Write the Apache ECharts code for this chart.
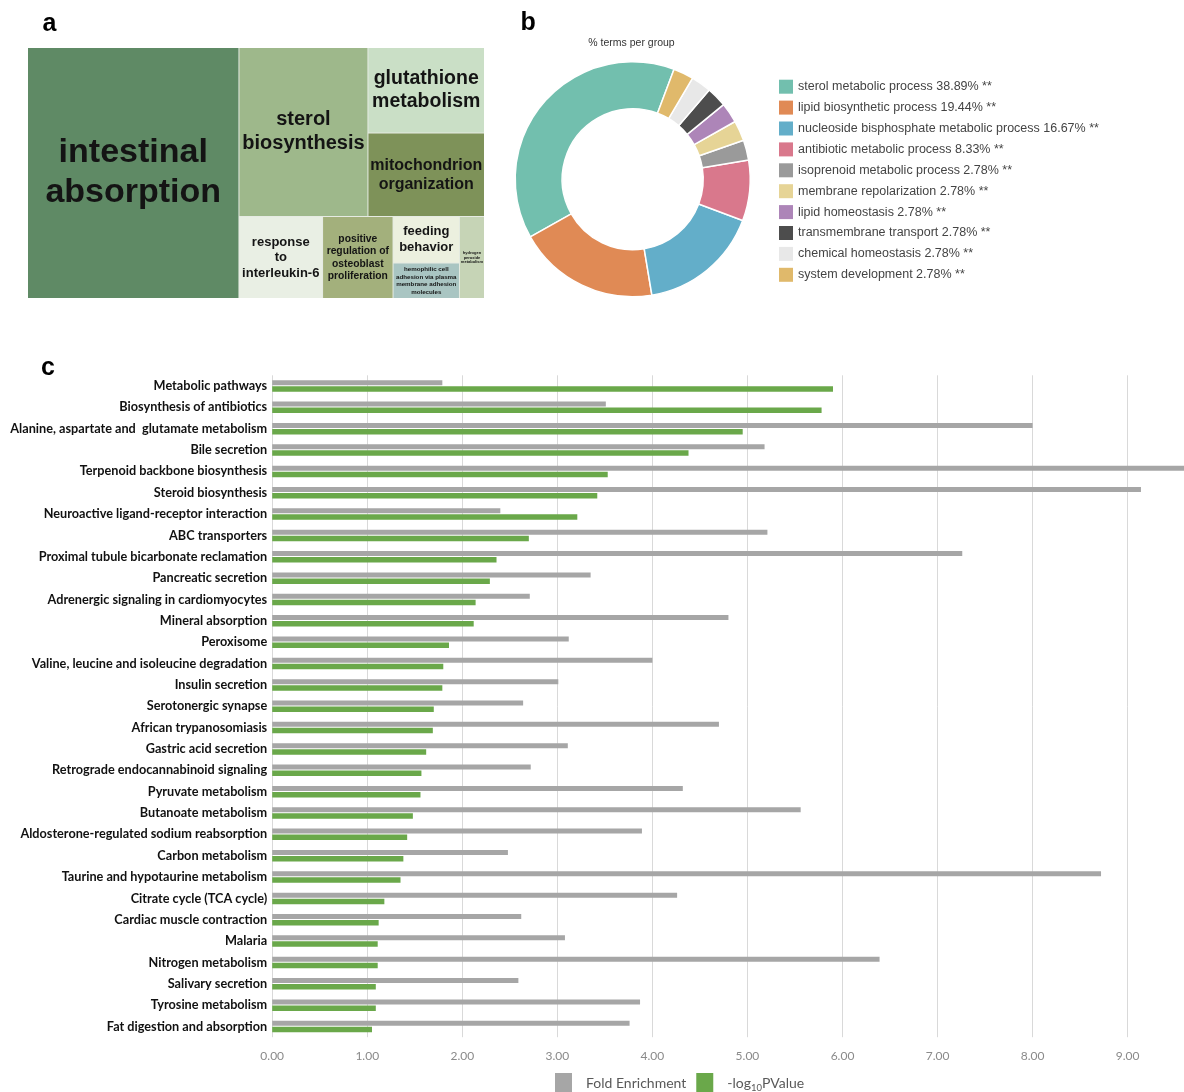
<!DOCTYPE html>
<html>
<head>
<meta charset="utf-8">
<script src="https://cdn.jsdelivr.net/npm/echarts@6/dist/echarts.min.js"></script>
<style>
  html, body { margin: 0; padding: 0; background: #ffffff; }
  #chart { width: 1184px; height: 1092px; }
</style>
</head>
<body>
<div id="chart"></div>
<script>
// ---------- Panel a: GO term treemap ----------
const treemapTerms = [
  'intestinal\nabsorption',
  'sterol\nbiosynthesis',
  'glutathione\nmetabolism',
  'mitochondrion\norganization',
  'response\nto\ninterleukin-6',
  'positive\nregulation of\nosteoblast\nproliferation',
  'feeding\nbehavior',
  'hemophilic cell\nadhesion via plasma\nmembrane adhesion\nmolecules',
  'hydrogen\nperoxide\nmetabolism'
];
// share of the treemap area per term (%)
const treemapSizes = [46.27, 19.00, 8.70, 8.47, 5.98, 5.04, 2.69, 2.06, 1.79];
// nesting of the cells (indices into treemapTerms)
const treemapLayout = [0, [[1, [2, 3]], [4, 5, [6, 7], 8]]];
const treemapColors = ['#5f8a65', '#9eb88b', '#cadfc6', '#7e9259', '#e9efe4', '#a3b07c', '#ecf0df', '#a9c5c2', '#c6d4b6'];
const treemapFontSizes = [34, 20, 19.5, 16, 13, 10.3, 13, 6.2, 4];
const treemapLineHeights = [40, 24, 23, 19, 15.5, 12.4, 16, 7.4, 4.4];

// ---------- Panel b: % terms per group ----------
const pieGroups = [
  'sterol metabolic process',
  'lipid biosynthetic process',
  'nucleoside bisphosphate metabolic process',
  'antibiotic metabolic process',
  'isoprenoid metabolic process',
  'membrane repolarization',
  'lipid homeostasis',
  'transmembrane transport',
  'chemical homeostasis',
  'system development'
];
const pieTermCounts = [14, 7, 6, 3, 1, 1, 1, 1, 1, 1];
const pieColors = ['#72bfae', '#e08a55', '#63aec9', '#d9788c', '#9a9a9a', '#e6d496', '#ad85b8', '#4d4d4d', '#e8e8e8', '#e0b96b'];

// ---------- Panel c: KEGG pathway enrichment ----------
const pathways = [
  'Metabolic pathways',
  'Biosynthesis of antibiotics',
  'Alanine, aspartate and  glutamate metabolism',
  'Bile secretion',
  'Terpenoid backbone biosynthesis',
  'Steroid biosynthesis',
  'Neuroactive ligand-receptor interaction',
  'ABC transporters',
  'Proximal tubule bicarbonate reclamation',
  'Pancreatic secretion',
  'Adrenergic signaling in cardiomyocytes',
  'Mineral absorption',
  'Peroxisome',
  'Valine, leucine and isoleucine degradation',
  'Insulin secretion',
  'Serotonergic synapse',
  'African trypanosomiasis',
  'Gastric acid secretion',
  'Retrograde endocannabinoid signaling',
  'Pyruvate metabolism',
  'Butanoate metabolism',
  'Aldosterone-regulated sodium reabsorption',
  'Carbon metabolism',
  'Taurine and hypotaurine metabolism',
  'Citrate cycle (TCA cycle)',
  'Cardiac muscle contraction',
  'Malaria',
  'Nitrogen metabolism',
  'Salivary secretion',
  'Tyrosine metabolism',
  'Fat digestion and absorption'
];
const foldEnrichment = [
  1.79, 3.51, 8.00, 5.18, 9.75, 9.14, 2.40, 5.21, 7.26, 3.35,
  2.71, 4.80, 3.12, 4.00, 3.01, 2.64, 4.70, 3.11, 2.72, 4.32,
  5.56, 3.89, 2.48, 8.72, 4.26, 2.62, 3.08, 6.39, 2.59, 3.87, 3.76
];
const negLog10P = [
  5.90, 5.78, 4.95, 4.38, 3.53, 3.42, 3.21, 2.70, 2.36, 2.29,
  2.14, 2.12, 1.86, 1.80, 1.79, 1.70, 1.69, 1.62, 1.57, 1.56,
  1.48, 1.42, 1.38, 1.35, 1.18, 1.12, 1.11, 1.11, 1.09, 1.09, 1.05
];
const barSeriesNames = ['Fold Enrichment', '-log10PValue'];
const xMin = 0, xMax = 10, xStep = 1;

// ---------- build ----------
function treeNode(spec) {
  if (Array.isArray(spec)) {
    return { name: '', children: spec.map(treeNode) };
  }
  return {
    name: treemapTerms[spec],
    value: treemapSizes[spec],
    itemStyle: { color: treemapColors[spec] },
    label: { fontSize: treemapFontSizes[spec], lineHeight: treemapLineHeights[spec] }
  };
}

const pieTotal = pieTermCounts.reduce((a, b) => a + b, 0);
const piePercent = {};
pieGroups.forEach((g, i) => { piePercent[g] = (pieTermCounts[i] / pieTotal * 100).toFixed(2); });

const LABEL_FONT = 'Lato';
const chart = echarts.init(document.getElementById('chart'), null, { renderer: 'canvas' });

chart.setOption({
  animation: false,
  backgroundColor: '#ffffff',
  graphic: [
    { type: 'text', x: 42.5, y: 24.3, style: { text: 'a', font: 'bold 25px "Liberation Sans"', fill: '#000', verticalAlign: 'middle' } },
    { type: 'text', x: 520.5, y: 23.3, style: { text: 'b', font: 'bold 25px "Liberation Sans"', fill: '#000', verticalAlign: 'middle' } },
    { type: 'text', x: 41, y: 368.3, style: { text: 'c', font: 'bold 25px "Liberation Sans"', fill: '#000', verticalAlign: 'middle' } },
    { type: 'text', x: 631.5, y: 43.3, style: { text: '% terms per group', font: '10.5px "Liberation Sans"', fill: '#333', align: 'center', verticalAlign: 'middle' } }
  ],
  legend: [
    {
      data: pieGroups,
      orient: 'vertical',
      left: 779, top: 79.7, padding: 0,
      icon: 'rect',
      itemWidth: 14, itemHeight: 14, itemGap: 6.9,
      selectedMode: false,
      itemStyle: { borderWidth: 0 },
      textStyle: { color: '#444', fontFamily: 'Liberation Sans', fontSize: 12.5, lineHeight: 14 },
      formatter: name => `${name} ${piePercent[name]}% **`
    },
    {
      data: barSeriesNames,
      left: 555, top: 1073, padding: 0,
      icon: 'rect',
      itemWidth: 17, itemHeight: 20, itemGap: 10,
      selectedMode: false,
      textStyle: {
        color: '#595959', fontFamily: LABEL_FONT, fontSize: 14, lineHeight: 20, padding: [0, 0, 0, 9],
        rich: { sub: { fontSize: 9.5, lineHeight: 13, verticalAlign: 'bottom', color: '#595959', fontFamily: LABEL_FONT } }
      },
      formatter: name => name === '-log10PValue' ? '-log{sub|10}PValue' : name
    }
  ],
  grid: { left: 272.2, top: 375.3, width: 950.5, height: 661.9, containLabel: false, outerBoundsMode: 'none' },
  xAxis: {
    type: 'value', min: xMin, max: xMax, interval: xStep,
    axisLine: { show: false }, axisTick: { show: false },
    splitLine: { show: true, lineStyle: { color: '#d9d9d9', width: 1 } },
    axisLabel: { formatter: v => v.toFixed(2), color: '#8a8a8a', fontFamily: LABEL_FONT, fontSize: 12, margin: 13 }
  },
  yAxis: {
    type: 'category', inverse: true, data: pathways,
    axisLine: { show: false }, axisTick: { show: false },
    axisLabel: { color: '#111', fontFamily: LABEL_FONT, fontWeight: 'bold', fontSize: 12.7, margin: 5 }
  },
  series: [
    {
      type: 'treemap',
      left: 28, top: 48, width: 456, height: 250,
      sort: false, squareRatio: 1,
      roam: false, nodeClick: false, visibleMin: 0,
      breadcrumb: { show: false },
      itemStyle: { borderWidth: 0, gapWidth: 1, borderColor: '#e6ebe3' },
      upperLabel: { show: false },
      label: {
        show: true, position: 'inside', padding: 0,
        color: '#141414', fontFamily: 'Liberation Sans', fontWeight: 'bold'
      },
      emphasis: { disabled: true },
      data: treemapLayout.map(treeNode)
    },
    {
      type: 'pie',
      center: [632.7, 179.2], radius: [70.5, 117.5],
      startAngle: 69.4, clockwise: false,
      label: { show: false }, labelLine: { show: false },
      itemStyle: { borderColor: '#ffffff', borderWidth: 1.5 },
      emphasis: { disabled: true },
      data: pieGroups.map((g, i) => ({ name: g, value: pieTermCounts[i], itemStyle: { color: pieColors[i] } }))
    },
    {
      type: 'bar', name: barSeriesNames[0], data: foldEnrichment,
      barWidth: 5, barGap: '20%',
      itemStyle: { color: '#a6a6a6' }
    },
    {
      type: 'bar', name: barSeriesNames[1], data: negLog10P,
      barWidth: 5.5,
      itemStyle: { color: '#6aa84a' }
    }
  ]
});
</script>
</body>
</html>
